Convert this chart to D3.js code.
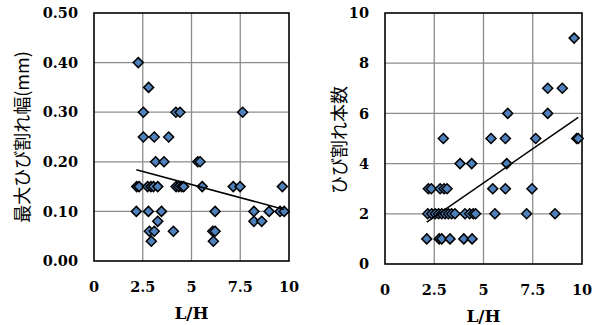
<!DOCTYPE html>
<html>
<head>
<meta charset="utf-8">
<script src="https://cdn.jsdelivr.net/npm/d3@7"></script>
<style>
  body { margin: 0; background: #fff; }
  svg { display: block; }
  .tick-label { font-family: "DejaVu Serif", serif; font-weight: bold; font-size: 14.5px; fill: #000; }
  .x-title { font-family: "DejaVu Serif", serif; font-weight: bold; font-size: 17px; fill: #000; }
  .y-title { font-family: "Noto Sans CJK JP", sans-serif; font-size: 18px; fill: #000; }
</style>
</head>
<body>
<script>
// x ticks shared by both charts
const xTicks = [0, 2.5, 5, 7.5, 10];
const xTickLabels = ["0", "2.5", "5", "7.5", "10"];

// left chart: max crack width (mm)
const widthTicks = [0, 0.1, 0.2, 0.3, 0.4, 0.5];
const widthTickLabels = ["0.00", "0.10", "0.20", "0.30", "0.40", "0.50"];
const widthLH = [
  2.27,
  2.80,
  2.53, 4.2, 4.41, 7.62,
  2.53, 3.09, 3.83,
  3.16, 3.59, 5.32, 5.44,
  2.19, 2.31, 2.75, 2.92, 3.05, 3.27, 4.21, 4.35, 4.5, 4.6, 5.55, 7.14, 7.49, 9.66,
  2.17, 2.79, 3.46, 6.21, 8.2, 8.98, 9.54, 9.75,
  3.27, 8.2, 8.6,
  2.84, 3.09, 4.07, 6.09, 6.21,
  2.94, 6.12
];
const widthVal = [
  0.40,
  0.35,
  0.30, 0.30, 0.30, 0.30,
  0.25, 0.25, 0.25,
  0.20, 0.20, 0.20, 0.20,
  0.15, 0.15, 0.15, 0.15, 0.15, 0.15, 0.15, 0.15, 0.15, 0.15, 0.15, 0.15, 0.15, 0.15,
  0.10, 0.10, 0.10, 0.10, 0.10, 0.10, 0.10, 0.10,
  0.08, 0.08, 0.08,
  0.06, 0.06, 0.06, 0.06, 0.06,
  0.04, 0.04
];

// right chart: number of cracks
const countTicks = [0, 2, 4, 6, 8, 10];
const countTickLabels = ["0", "2", "4", "6", "8", "10"];
const countLH = [
  9.6,
  8.26, 9.0,
  6.23, 8.26,
  2.96, 5.38, 6.11, 7.65, 9.73, 9.81,
  3.81, 4.40, 6.18,
  2.2, 2.35, 2.8, 3.0, 3.15, 5.47, 6.11, 7.46,
  2.17, 2.37, 2.55, 2.72, 2.88, 3.05, 3.22, 3.38, 3.55, 4.06, 4.3, 4.48, 4.6, 5.58, 7.19, 8.63,
  2.12, 2.75, 2.88, 3.3, 4.0, 4.42
];
const countVal = [
  9,
  7, 7,
  6, 6,
  5, 5, 5, 5, 5, 5,
  4, 4, 4,
  3, 3, 3, 3, 3, 3, 3, 3,
  2, 2, 2, 2, 2, 2, 2, 2, 2, 2, 2, 2, 2, 2, 2, 2,
  1, 1, 1, 1, 1, 1
];

const svg = d3.select("body").append("svg")
  .attr("width", 601)
  .attr("height", 325);

function linReg(xs, ys) {
  const mx = d3.mean(xs), my = d3.mean(ys);
  let sxy = 0, sxx = 0;
  xs.forEach((x, i) => { sxy += (x - mx) * (ys[i] - my); sxx += (x - mx) * (x - mx); });
  const b = sxy / sxx;
  return { b: b, a: my - b * mx };
}

function drawChart(cfg) {
  const x = d3.scaleLinear().domain([0, 10]).range([cfg.left, cfg.right]);
  const y = d3.scaleLinear().domain(cfg.yDomain).range([cfg.bottom, cfg.top]);
  const g = svg.append("g");

  // grid
  g.selectAll(".vgrid").data(xTicks.slice(1, -1)).join("line")
    .attr("x1", d => x(d)).attr("x2", d => x(d))
    .attr("y1", cfg.top).attr("y2", cfg.bottom)
    .attr("stroke", "#8c8c8c").attr("stroke-width", 1.3);
  g.selectAll(".hgrid").data(cfg.yTicks.slice(1, -1)).join("line")
    .attr("x1", cfg.left).attr("x2", cfg.right)
    .attr("y1", d => y(d)).attr("y2", d => y(d))
    .attr("stroke", "#8c8c8c").attr("stroke-width", 1.3);

  // frame
  g.append("rect")
    .attr("x", cfg.left).attr("y", cfg.top)
    .attr("width", cfg.right - cfg.left).attr("height", cfg.bottom - cfg.top)
    .attr("fill", "none").attr("stroke", "#000").attr("stroke-width", 1.6);

  // points
  const pts = cfg.xs.map((v, i) => [v, cfg.ys[i]]);
  g.selectAll(".pt").data(pts).join("path")
    .attr("d", "M0,-5L5,0L0,5L-5,0Z")
    .attr("transform", d => `translate(${x(d[0])},${y(d[1])})`)
    .attr("fill", "#4f81bd").attr("stroke", "#000").attr("stroke-width", 1.5);

  // trend line
  const r = linReg(cfg.xs, cfg.ys);
  const x0 = d3.min(cfg.xs), x1 = d3.max(cfg.xs);
  g.append("line")
    .attr("x1", x(x0)).attr("y1", y(r.a + r.b * x0))
    .attr("x2", x(x1)).attr("y2", y(r.a + r.b * x1))
    .attr("stroke", "#000").attr("stroke-width", 1.5);

  // tick labels
  g.selectAll(".xl").data(xTicks).join("text")
    .attr("class", "tick-label")
    .attr("x", d => x(d)).attr("y", cfg.bottom + 31)
    .attr("text-anchor", "middle")
    .text((d, i) => xTickLabels[i]);
  g.selectAll(".yl").data(cfg.yTicks).join("text")
    .attr("class", "tick-label")
    .attr("x", cfg.left - 16).attr("y", d => y(d))
    .attr("dy", "0.36em")
    .attr("text-anchor", "end")
    .text((d, i) => cfg.yTickLabels[i]);

  // titles
  g.append("text").attr("class", "x-title")
    .attr("x", (cfg.left + cfg.right) / 2).attr("y", cfg.bottom + 58)
    .attr("text-anchor", "middle").text("L/H");
  g.append("text").attr("class", "y-title")
    .attr("transform", `translate(${cfg.titleX},${cfg.titleY}) rotate(-90)`)
    .attr("text-anchor", "middle").attr("dy", "0.35em")
    .text(cfg.yTitle);
}

drawChart({
  left: 94, right: 289, top: 13, bottom: 261,
  yDomain: [0, 0.5], yTicks: widthTicks, yTickLabels: widthTickLabels,
  xs: widthLH, ys: widthVal,
  yTitle: "最大ひび割れ幅(mm)", titleX: 23, titleY: 137
});

drawChart({
  left: 385, right: 582, top: 13, bottom: 264,
  yDomain: [0, 10], yTicks: countTicks, yTickLabels: countTickLabels,
  xs: countLH, ys: countVal,
  yTitle: "ひび割れ本数", titleX: 340, titleY: 140
});
</script>
</body>
</html>
